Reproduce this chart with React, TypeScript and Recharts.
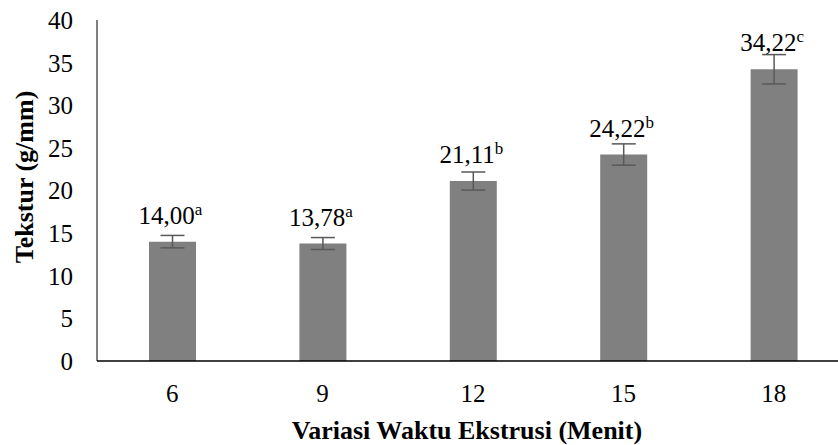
import { BarChart, Bar, XAxis, YAxis, ErrorBar, LabelList, Label } from 'recharts';

const categories = ['6', '9', '12', '15', '18'];
const values = [14.0, 13.78, 21.11, 24.22, 34.22];
const errors = [0.73, 0.7, 1.06, 1.25, 1.72];
const letters = ['a', 'a', 'b', 'b', 'c'];
const yTicks = [0, 5, 10, 15, 20, 25, 30, 35, 40];

const data = categories.map((c, i) => ({ name: c, value: values[i], err: errors[i], letter: letters[i] }));

const FONT = '"Liberation Serif", "Times New Roman", serif';

function ValueLabel(props: any) {
  const { x, y, width, index } = props;
  const v = values[index].toFixed(2).replace('.', ',');
  return (
    <text x={x + width / 2 - 2} y={y - 18} textAnchor="middle" fontFamily={FONT} fontSize={25} fill="#000">
      {v}
      <tspan fontSize={17} dy={-9}>{letters[index]}</tspan>
    </text>
  );
}

export default function App() {
  return (
    <div style={{ position: 'absolute', left: 0, top: 0, width: 838, height: 445, overflow: 'hidden', background: '#fff' }}>
      <BarChart width={852} height={445} data={data} margin={{ top: 20, right: 3, left: 0, bottom: 0 }}>
        <XAxis
          dataKey="name"
          height={84}
          tickSize={0}
          tickMargin={23}
          axisLine={{ stroke: '#000', strokeWidth: 1.5 }}
          tick={{ fontSize: 25, fill: '#000', fontFamily: FONT }}
        >
          <Label
            content={() => (
              <text x={467} y={439} textAnchor="middle" fontFamily={FONT} fontSize={26} fontWeight="bold" fill="#000">
                Variasi Waktu Ekstrusi (Menit)
              </text>
            )}
          />
        </XAxis>
        <YAxis
          width={97}
          domain={[0, 40]}
          ticks={yTicks}
          interval={0}
          tickSize={0}
          tickMargin={24}
          axisLine={{ stroke: '#000', strokeWidth: 1 }}
          tick={{ fontSize: 25, fill: '#000', fontFamily: FONT }}
        >
          <Label
            content={() => (
              <text
                x={0}
                y={0}
                transform="translate(33, 177) rotate(-90)"
                textAnchor="middle"
                fontFamily={FONT}
                fontSize={26}
                fontWeight="bold"
                fill="#000"
              >
                Tekstur (g/mm)
              </text>
            )}
          />
        </YAxis>
        <Bar dataKey="value" fill="#808080" barSize={47} isAnimationActive={false}>
          <ErrorBar dataKey="err" width={12} stroke="#595959" strokeWidth={1.5} />
          <LabelList dataKey="value" content={ValueLabel} />
        </Bar>
      </BarChart>
    </div>
  );
}
